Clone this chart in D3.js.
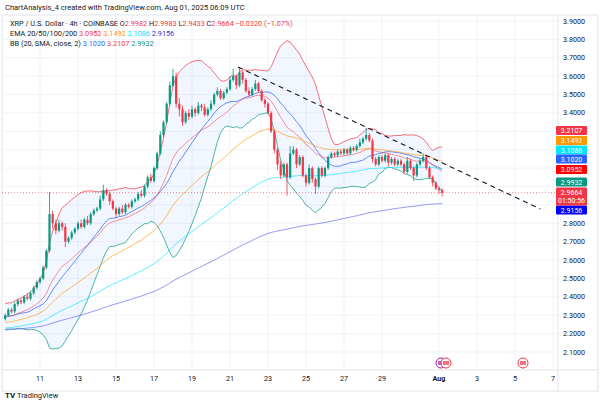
<!DOCTYPE html>
<html>
<head>
<meta charset="utf-8">
<script src="https://d3js.org/d3.v7.min.js"></script>
<style>
  body { margin: 0; background: #fff; }
  text { font-family: Roboto, "Open Sans", sans-serif; }
</style>
</head>
<body>
<script>
// 4h closes, Jul 9 04:00 UTC .. Aug 1 04:00 UTC
var closes = [
  2.30, 2.33, 2.32, 2.36, 2.38,
  2.37, 2.40, 2.39, 2.42, 2.45, 2.48,
  2.50, 2.56, 2.65, 2.85, 2.80, 2.76,
  2.80, 2.78, 2.70, 2.72, 2.75, 2.77,
  2.80, 2.78, 2.82, 2.80, 2.85, 2.87,
  2.88, 2.93, 2.98, 2.96, 2.92, 2.88,
  2.85, 2.88, 2.86, 2.90, 2.89, 2.92,
  2.93, 2.96, 2.95, 3.00, 3.05, 3.03,
  3.10, 3.18, 3.28, 3.35, 3.45, 3.55,
  3.60, 3.45, 3.42, 3.35, 3.40, 3.38,
  3.42, 3.40, 3.44, 3.43, 3.39, 3.42,
  3.45, 3.50, 3.52, 3.48, 3.51, 3.53,
  3.58, 3.60, 3.55, 3.62, 3.58, 3.52,
  3.50, 3.53, 3.56, 3.52, 3.47, 3.45,
  3.40, 3.30, 3.20, 3.12, 3.06, 3.12,
  3.05, 3.18, 3.20, 3.12, 3.16, 3.06,
  3.02, 3.10, 3.04, 3.00, 3.10, 3.06,
  3.10, 3.16, 3.18, 3.17, 3.19, 3.18,
  3.20, 3.18, 3.21, 3.20, 3.22, 3.24,
  3.26, 3.28, 3.25, 3.15, 3.12, 3.16,
  3.14, 3.17, 3.13, 3.15, 3.12, 3.14,
  3.12, 3.08, 3.14, 3.10, 3.06, 3.12,
  3.14, 3.16, 3.10, 3.05, 3.02, 2.99,
  2.98, 2.9664
];
// upper / lower wick length in cents
var upWick = [
  1,1,1,1,1, 1,1,2,1,1,1, 1,1,1,12,2,2, 2,1,2,1,1,1, 1,2,1,2,1,1,
  1,2,3,1,1,1, 1,1,2,1,1,1, 1,1,2,1,1,2, 1,1,2,1,1,2, 4,2,3,2,1,2,
  2,1,2,1,2,1, 2,1,2,1,1,1, 2,4,1,3,1,1, 2,1,2,1,1,1, 1,1,1,1,2,1,
  1,4,2,1,1,1, 1,2,1,1,1,1, 1,1,1,1,1,1, 1,1,1,1,1,2, 1,4,1,1,1,1,
  1,1,1,1,1,1, 1,1,2,1,1,1, 1,2,1,1,1,1, 1,1
];
var downWick = [
  1,1,1,1,1, 1,1,1,1,1,1, 1,1,1,1,3,2, 1,2,3,1,1,1, 1,1,1,1,1,1,
  1,1,1,1,2,1, 2,1,1,1,1,1, 1,1,1,1,1,1, 1,1,1,1,1,1, 1,2,4,2,1,2,
  1,2,1,2,1,1, 1,1,1,1,1,1, 1,1,2,1,2,1, 1,1,1,1,1,2, 1,1,2,3,2,1,
  10,1,1,2,1,1, 2,1,2,4,1,1, 1,1,1,1,1,1, 1,1,1,1,1,1, 1,1,1,2,1,1,
  1,1,2,1,1,1, 1,1,1,1,3,1, 1,1,1,1,2,1, 2,2
];
// closes before the visible range (for the Bollinger window)
var warmup = [2.22, 2.26, 2.31, 2.28, 2.24, 2.30, 2.35, 2.33, 2.27, 2.25,
              2.29, 2.34, 2.36, 2.31, 2.26, 2.23, 2.27, 2.32, 2.30, 2.28];
var emaSeeds = [2.29, 2.26, 2.23, 2.22];
var emaLengths = [20, 50, 100, 200];
var emaColors = ["#f23645", "#ff9800", "#00e5ff", "#5b5bf0"];
var priceTicks = d3.range(2.1, 3.95, 0.1);
var hiddenTicks = ["3.3000", "3.2000", "3.1000", "3.0000", "2.9000"]; // covered by price tags
var dayTicks = [11, 13, 15, 17, 19, 21, 23, 25, 27, 29, 32, 34, 36, 38];
var dayLabels = ["11", "13", "15", "17", "19", "21", "23", "25", "27", "29", "Aug", "3", "5", "7"];
var tagLabels = ["3.2107", "3.1492", "3.1086", "3.1020", "3.0952", "2.9932", "2.9156"];
var tagColors = ["#f23645", "#ff9800", "#00e5ff", "#2962ff", "#ff0000", "#089981", "#0000ff"];
var tagY = [130.5, 140.5, 150, 159, 169.5, 182, 210]; // stacked label positions

var W = 600, H = 403;
var svg = d3.select("body").append("svg").attr("width", W).attr("height", H);

var t0 = Date.UTC(2025, 6, 9, 4);
var step = 4 * 3600 * 1000;
var x = d3.scaleUtc()
  .domain([new Date(Date.UTC(2025, 6, 11)), new Date(Date.UTC(2025, 7, 7))])
  .range([40, 553]);
var y = d3.scaleLinear().domain([2.1, 3.9]).range([352, 21]);

var bars = closes.map(function(c, i) {
  var o = i === 0 ? warmup[warmup.length - 1] : closes[i - 1];
  return {
    t: new Date(t0 + i * step), o: o, c: c,
    h: Math.max(o, c) + upWick[i] / 100,
    l: Math.min(o, c) - downWick[i] / 100
  };
});

// indicators
var all = warmup.concat(closes);
var bb = closes.map(function(c, i) {
  var win = all.slice(i + 1, i + 21);
  var m = d3.mean(win), sd = Math.sqrt(d3.mean(win, function(v) { return (v - m) * (v - m); }));
  return { t: bars[i].t, m: m, u: m + 2 * sd, l: m - 2 * sd };
});
var emas = emaLengths.map(function(n, k) {
  var a = 2 / (n + 1), e = emaSeeds[k];
  return closes.map(function(c, i) {
    if (i > 0) e = e + a * (c - e);
    return { t: bars[i].t, v: e };
  });
});

// frame + grid
svg.append("rect").attr("x", 2).attr("y", 15).attr("width", 596).attr("height", 376)
  .attr("fill", "none").attr("stroke", "#e0e3eb");
var plot = svg.append("g");
plot.selectAll(".hg").data(priceTicks).enter().append("line")
  .attr("x1", 2).attr("x2", 558).attr("y1", function(d) { return y(d); }).attr("y2", function(d) { return y(d); })
  .attr("stroke", "#f0f3fa");
plot.selectAll(".vg").data(dayTicks).enter().append("line")
  .attr("y1", 15).attr("y2", 370)
  .attr("x1", function(d) { return x(new Date(Date.UTC(2025, 6, d))); })
  .attr("x2", function(d) { return x(new Date(Date.UTC(2025, 6, d))); })
  .attr("stroke", "#f0f3fa");
svg.append("line").attr("x1", 558).attr("x2", 558).attr("y1", 15).attr("y2", 391).attr("stroke", "#e0e3eb");
svg.append("line").attr("x1", 2).attr("x2", 598).attr("y1", 370).attr("y2", 370).attr("stroke", "#e0e3eb");

// BB fill and lines
plot.append("path").datum(bb)
  .attr("d", d3.area().x(function(d) { return x(d.t); }).y0(function(d) { return y(d.l); }).y1(function(d) { return y(d.u); }))
  .attr("fill", "#2962ff").attr("opacity", 0.06);
[["u", "#f23645"], ["m", "#2962ff"], ["l", "#089981"]].forEach(function(p) {
  plot.append("path").datum(bb)
    .attr("d", d3.line().x(function(d) { return x(d.t); }).y(function(d) { return y(d[p[0]]); }))
    .attr("fill", "none").attr("stroke", p[1]).attr("stroke-width", 0.9).attr("opacity", 0.8);
});
emas.forEach(function(s, k) {
  plot.append("path").datum(s)
    .attr("d", d3.line().x(function(d) { return x(d.t); }).y(function(d) { return y(d.v); }))
    .attr("fill", "none").attr("stroke", emaColors[k]).attr("stroke-width", 0.9).attr("opacity", k === 0 ? 0.6 : 0.7);
});

// current price line
plot.append("line").attr("x1", 2).attr("x2", 558).attr("y1", y(2.9664)).attr("y2", y(2.9664))
  .attr("stroke", "#f23645").attr("stroke-dasharray", "1,2").attr("opacity", 0.6);

// candles
var cg = plot.selectAll(".cd").data(bars).enter().append("g");
cg.append("line")
  .attr("x1", function(d) { return x(d.t); }).attr("x2", function(d) { return x(d.t); })
  .attr("y1", function(d) { return y(d.h); }).attr("y2", function(d) { return y(d.l); })
  .attr("stroke", function(d) { return d.c >= d.o ? "#089981" : "#f23645"; }).attr("opacity", 0.8);
cg.append("rect")
  .attr("x", function(d) { return x(d.t) - 1.1; }).attr("width", 2.2)
  .attr("y", function(d) { return y(Math.max(d.o, d.c)); })
  .attr("height", function(d) { return Math.max(0.8, Math.abs(y(d.o) - y(d.c))); })
  .attr("fill", function(d) { return d.c >= d.o ? "#089981" : "#f23645"; });

// trendline
plot.append("line")
  .attr("x1", x(new Date(Date.UTC(2025, 6, 21, 10)))).attr("y1", y(3.65))
  .attr("x2", x(new Date(Date.UTC(2025, 7, 6, 8)))).attr("y2", y(2.878))
  .attr("stroke", "#131722").attr("stroke-width", 1.1).attr("stroke-dasharray", "5,4");

// price axis
svg.selectAll(".pl").data(priceTicks.filter(function(d) { return hiddenTicks.indexOf(d.toFixed(4)) < 0; }))
  .enter().append("text")
  .attr("x", 563).attr("y", function(d) { return y(d) + 2.5; })
  .attr("font-size", 7.2).attr("fill", "#131722")
  .text(function(d) { return d.toFixed(4); });
tagLabels.forEach(function(v, i) {
  svg.append("rect").attr("x", 556).attr("y", tagY[i] - 4.6).attr("width", 31).attr("height", 9.2)
    .attr("rx", 1).attr("fill", tagColors[i]);
  svg.append("text").attr("x", 571.5).attr("y", tagY[i] + 2.6).attr("text-anchor", "middle")
    .attr("font-size", 7).attr("fill", "#fff").text(v);
});
svg.append("rect").attr("x", 556).attr("y", 187.5).attr("width", 31).attr("height", 18)
  .attr("rx", 1).attr("fill", "#f23645");
svg.append("text").attr("x", 571.5).attr("y", 195).attr("text-anchor", "middle")
  .attr("font-size", 7).attr("fill", "#fff").text("2.9664");
svg.append("text").attr("x", 571.5).attr("y", 203.3).attr("text-anchor", "middle")
  .attr("font-size", 7).attr("fill", "#fff").text("01:50:56");

// time axis
svg.selectAll(".tl").data(dayTicks).enter().append("text")
  .attr("x", function(d) { return x(new Date(Date.UTC(2025, 6, d))); }).attr("y", 381)
  .attr("text-anchor", "middle").attr("font-size", 7.2).attr("fill", "#131722")
  .attr("font-weight", function(d, i) { return dayLabels[i] === "Aug" ? "bold" : "normal"; })
  .text(function(d, i) { return dayLabels[i]; });

// event markers
[[441, "#9c27b0"], [446, "#f23645"], [523, "#f23645"]].forEach(function(e) {
  svg.append("circle").attr("cx", e[0]).attr("cy", 363).attr("r", 5)
    .attr("fill", "#fff").attr("stroke", e[1]).attr("stroke-width", 1);
  svg.append("rect").attr("x", e[0] - 3).attr("y", 361).attr("width", 6).attr("height", 4)
    .attr("fill", e[1]).attr("opacity", 0.7);
});

// header + legend
svg.append("text").attr("x", 5).attr("y", 10).attr("font-size", 7.5).attr("fill", "#131722")
  .text("ChartAnalysis_4 created with TradingView.com, Aug 01, 2025 06:09 UTC");
function legendLine(yy, parts) {
  var t = svg.append("text").attr("x", 10).attr("y", yy).attr("font-size", 7.3);
  parts.forEach(function(p) { t.append("tspan").attr("fill", p[1]).text(p[0]); });
}
legendLine(26, [["XRP / U.S. Dollar · 4h · COINBASE  O", "#131722"], ["2.9982", "#f23645"], ["  H", "#131722"],
  ["2.9983", "#f23645"], ["  L", "#131722"], ["2.9433", "#f23645"], ["  C", "#131722"], ["2.9664  −0.0320 (−1.07%)", "#f23645"]]);
legendLine(36, [["EMA 20/50/100/200  ", "#131722"], ["3.0952  ", "#f23645"], ["3.1492  ", "#ff9800"],
  ["3.1086  ", "#00e5ff"], ["2.9156", "#3030e0"]]);
legendLine(46, [["BB (20, SMA, close, 2)  ", "#131722"], ["3.1020  ", "#2962ff"], ["3.2107  ", "#f23645"], ["2.9932", "#089981"]]);

// footer
svg.append("text").attr("x", 5).attr("y", 398).attr("font-size", 8).attr("font-weight", "bold").attr("fill", "#131722").text("TV");
svg.append("text").attr("x", 17).attr("y", 398).attr("font-size", 7.5).attr("fill", "#131722").text("TradingView");
</script>
</body>
</html>
